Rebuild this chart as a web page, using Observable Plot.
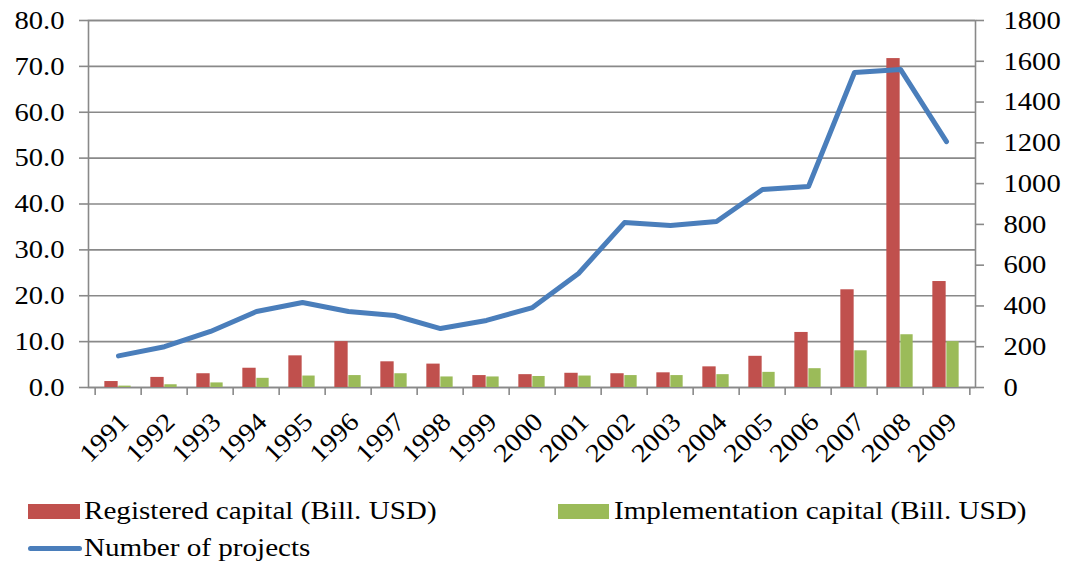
<!DOCTYPE html>
<html><head><meta charset="utf-8">
<script src="https://cdn.jsdelivr.net/npm/d3@7"></script>
<script src="https://cdn.jsdelivr.net/npm/@observablehq/plot@0.6"></script>
</head><body style="margin:0;background:#fff">
<div id="chart" style="position:relative;width:1065px;height:562px;overflow:hidden"></div>
<script>
const years = [1991,1992,1993,1994,1995,1996,1997,1998,1999,2000,2001,2002,2003,2004,2005,2006,2007,2008,2009];
const registered = [1.3,2.2,3.0,4.2,6.9,10.0,5.6,5.1,2.6,2.8,3.1,3.0,3.2,4.5,6.8,12.0,21.3,71.7,23.1];
const implementation = [0.3,0.6,1.0,2.0,2.5,2.6,3.0,2.3,2.3,2.4,2.5,2.6,2.6,2.8,3.3,4.1,8.0,11.5,10.0];
const projects = [155,200,275,373,417,373,353,289,329,392,559,809,794,814,971,986,1545,1560,1206];
const leftTicks = [0,10,20,30,40,50,60,70,80];
const rightTicks = [0,200,400,600,800,1000,1200,1400,1600,1800];
const seriesNames = ["Registered capital (Bill. USD)","Implementation capital (Bill. USD)","Number of projects"];
const colors = ["#C0504D","#9BBB59","#4A7EBB"];

const FONT = '"Liberation Serif", monospace';
const FS = 26;
const ctx = document.createElement("canvas").getContext("2d");
ctx.font = FS + "px " + FONT;
ctx.measureText("Registered capital 1991 0.0");

const leftMax = 80, rightMax = 1800, k = leftMax / rightMax;
const rows = years.map((y, i) => ({year: String(y), registered: registered[i], implementation: implementation[i], projects: projects[i]}));

const W = 1065, H = 470, mL = 88, mR = 90, mT = 20, yBase = 387;
const bw = (W - mL - mR) / years.length;
const grid = "#898989";

const chart = Plot.plot({
  width: W, height: H,
  marginLeft: mL, marginRight: mR, marginTop: mT, marginBottom: H - yBase,
  style: {fontFamily: FONT, fontSize: FS + "px", color: "#000", background: "#fff", overflow: "visible"},
  x: {type: "band", domain: years.map(String), padding: 0, axis: null},
  y: {domain: [0, leftMax]},
  marks: [
    Plot.gridY(leftTicks, {stroke: grid, strokeOpacity: 1, strokeWidth: 1.6}),
    Plot.frame({stroke: grid, strokeWidth: 1.6}),
    Plot.barY(rows, {x: "year", y: "registered", fill: colors[0], insetLeft: bw / 2 - 14, insetRight: bw / 2}),
    Plot.barY(rows, {x: "year", y: "implementation", fill: colors[1], insetLeft: bw / 2, insetRight: bw / 2 - 13}),
    Plot.line(rows, {x: "year", y: d => d.projects * k, stroke: colors[2], strokeWidth: 5, strokeLinecap: "round", strokeLinejoin: "round"}),
    Plot.axisY(leftTicks, {anchor: "left", tickSize: 9, tickPadding: 15, tickFormat: d => d.toFixed(1), stroke: grid, strokeWidth: 1.6, label: null, fontSize: FS, fontFamily: FONT}),
    Plot.axisY(rightTicks.map(v => v * k), {anchor: "right", tickSize: 8, tickPadding: 20, tickFormat: d => String(Math.round(d / k)), stroke: grid, strokeWidth: 1.6, label: null, fontSize: FS, fontFamily: FONT}),
    Plot.axisX(years.map(String), {anchor: "bottom", tickSize: 8, tickFormat: () => "", dx: -bw / 2, stroke: grid, strokeWidth: 1.6, label: null}),
    Plot.axisX([String(years[years.length - 1])], {anchor: "bottom", tickSize: 8, tickFormat: () => "", dx: bw / 2, stroke: grid, strokeWidth: 1.6, label: null}),
    Plot.text(years.map(String), {x: d => d, y: 0, dx: 6, dy: 30, rotate: -45, textAnchor: "end", lineAnchor: "middle", fontSize: FS, fontFamily: FONT, fill: "#000"})
  ]
});
const root = document.getElementById("chart");
root.appendChild(chart);

// slight horizontal widening of glyphs, as in the reference
const stretch = 1.1;
function widen() {
  chart.querySelectorAll("text").forEach(t => {
    t.style.fontFamily = FONT;
    if (!t.textContent) return;
    t.removeAttribute("textLength");
    const len = t.getComputedTextLength();
    if (len > 0) {
      t.setAttribute("textLength", (len * stretch).toFixed(2));
      t.setAttribute("lengthAdjust", "spacingAndGlyphs");
    }
  });
}
widen();
if (document.fonts && document.fonts.load) document.fonts.load(FS + 'px "Liberation Serif"').then(widen);

function addBox(css, text) {
  const d = document.createElement("div");
  Object.assign(d.style, {position: "absolute"}, css);
  if (text) {
    d.textContent = text;
    Object.assign(d.style, {fontFamily: FONT, fontSize: FS + "px", lineHeight: FS + "px", color: "#000", whiteSpace: "nowrap", transform: "scaleX(1.12)", transformOrigin: "0 50%"});
  }
  root.appendChild(d);
}
addBox({left: "28px", top: "504px", width: "52px", height: "15px", background: colors[0]});
addBox({left: "84px", top: "498px"}, seriesNames[0]);
addBox({left: "558px", top: "504px", width: "51px", height: "15px", background: colors[1]});
addBox({left: "614px", top: "498px"}, seriesNames[1]);
addBox({left: "28px", top: "546px", width: "54px", height: "5px", background: colors[2], borderRadius: "3px"});
addBox({left: "84px", top: "535px"}, seriesNames[2]);
</script></body></html>
